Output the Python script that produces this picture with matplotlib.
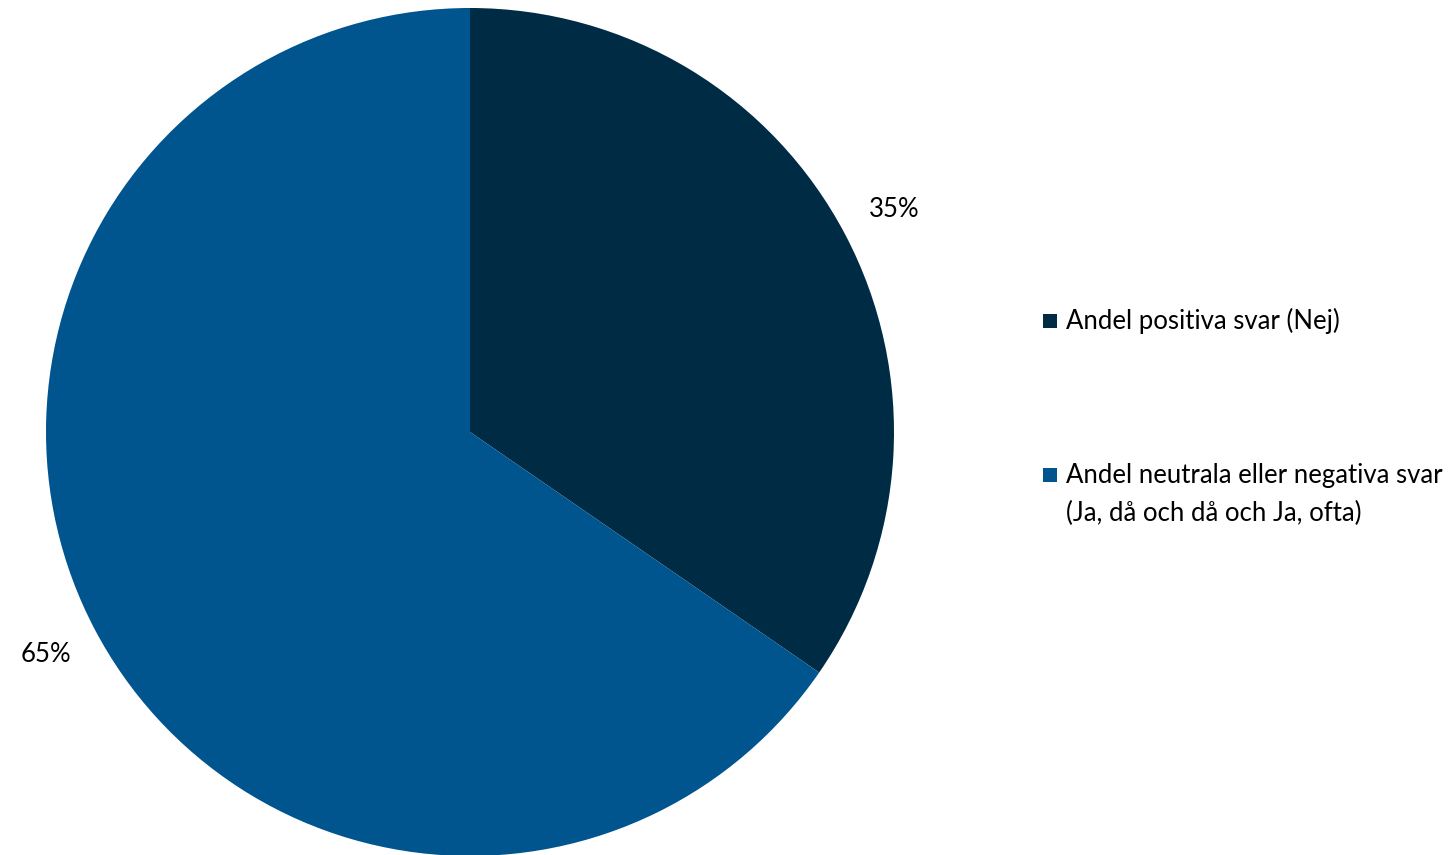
import matplotlib.pyplot as plt
from matplotlib.patches import Rectangle

# Andel svar, i procent (visas avrundat)
categories = ['Andel positiva svar (Nej)',
              'Andel neutrala eller negativa svar\n(Ja, då och då och Ja, ofta)']
values = [34.6, 65.4]
colors = ['#002b45', '#00558f']

plt.rcParams['font.family'] = ['Lato', 'DejaVu Sans']

fig = plt.figure(figsize=(14.52, 8.55), dpi=100)
W, H = 1452, 855
cx, cy, r = 470, 432, 424
ax = fig.add_axes([(cx - r) / W, (H - cy - r) / H, 2 * r / W, 2 * r / H])

wedges, texts, autotexts = ax.pie(values, colors=colors, startangle=90, counterclock=False,
                                  autopct='%1.0f%%', pctdistance=1.13,
                                  wedgeprops=dict(linewidth=0),
                                  textprops=dict(fontsize=18.5, color='#000000'))
ax.set_xlim(-1, 1)
ax.set_ylim(-1, 1)
ax.set_aspect('equal')

# legend drawn by hand so the marker sits on the first line of each entry
entry_y = [321, 475]
line_step = 38
for label, col, y in zip(categories, colors, entry_y):
    fig.patches.append(Rectangle((1043 / W, 1 - (y + 7) / H), 14 / W, 14 / H,
                                 transform=fig.transFigure, facecolor=col, edgecolor='none'))
    for i, line in enumerate(label.split('\n')):
        fig.text(1066 / W, 1 - (y + i * line_step) / H, line, fontsize=18.5,
                 va='center', ha='left', color='#000000')

plt.savefig('out.png', dpi=100)
